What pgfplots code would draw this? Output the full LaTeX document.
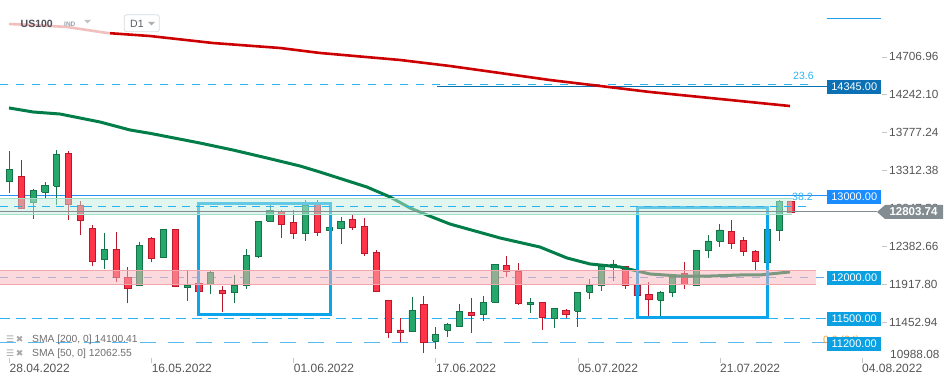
\documentclass[border=0pt]{standalone}
\usepackage{fontspec}
\setmainfont{Liberation Sans}
\newfontfamily\dejavu{DejaVu Sans}
\usepackage{pgfplots}
\pgfplotsset{compat=1.18}
\usepackage{pgfplotstable}

\definecolor{cgreen}{RGB}{38,168,108}
\definecolor{cgreendk}{RGB}{20,115,72}
\definecolor{cred}{RGB}{255,52,72}
\definecolor{creddk}{RGB}{185,25,45}
\definecolor{smared}{RGB}{204,0,0}
\definecolor{smagreen}{RGB}{0,125,72}
\definecolor{boxblue}{RGB}{10,165,235}
\definecolor{lvlblue}{RGB}{40,145,245}
\definecolor{dashblue}{RGB}{40,180,240}
\definecolor{dash12k}{RGB}{110,170,225}
\definecolor{dash11k}{RGB}{90,185,240}
\definecolor{topblue}{RGB}{30,160,235}
\definecolor{tickgray}{RGB}{85,85,85}
\definecolor{pricegray}{RGB}{130,140,145}
\definecolor{lab14345}{RGB}{12,112,180}
\definecolor{lab13000}{RGB}{25,140,255}
\definecolor{labsky}{RGB}{10,160,225}
\definecolor{fiborange}{RGB}{255,160,40}
\definecolor{pinkfill}{RGB}{248,180,185}
\definecolor{pinkline}{RGB}{242,165,170}
\definecolor{mintfill}{RGB}{195,238,222}
\definecolor{mintline}{RGB}{160,225,200}
\definecolor{hdrtext}{RGB}{80,80,90}
\definecolor{indtext}{RGB}{150,160,170}
\definecolor{tri1}{RGB}{190,195,200}
\definecolor{tri2}{RGB}{170,175,180}
\definecolor{d1border}{RGB}{215,220,225}
\definecolor{d1text}{RGB}{90,95,100}
\definecolor{iconGray}{RGB}{165,165,165}
\definecolor{smatext}{RGB}{110,110,110}

\pgfplotsset{
  gcw/.style={draw=cgreendk, line width=0.9pt},
  gcb/.style={draw=cgreendk, fill=cgreen, line width=0.9pt},
  rcw/.style={draw=creddk, line width=0.9pt},
  rcb/.style={draw=creddk, fill=cred, line width=0.9pt},
}

\pgfplotstableread{
i o h l c
1 13175 13552 13040 13328
2 13245 13442 12845 12849
3 12923 13082 12718 13065
4 13045 13175 12979 13131
5 13119 13564 12890 13512
6 13524 13552 12706 12898
7 12886 12939 12521 12697
8 12604 12644 12141 12194
9 12223 12546 12104 12346
10 12346 12558 11948 12002
11 12002 12132 11683 11867
12 11899 12436 11890 12395
13 12481 12497 12194 12236
14 12248 12600 12240 12591
15 12591 12595 11880 11887
16 11880 12080 11715 11908
17 11929 11957 11785 11826
18 11920 12080 11794 12064
19 11843 11896 11580 11801
20 11818 12031 11683 11904
21 11899 12350 11855 12272
22 12255 12695 12236 12690
23 12690 12890 12685 12828
24 12812 12828 12488 12653
25 12677 12828 12469 12542
26 12542 12951 12452 12890
27 12893 12951 12513 12555
28 12579 12632 12570 12616
29 12599 12742 12415 12693
30 12714 12771 12583 12616
31 12628 12730 12268 12292
32 12309 12334 11822 11826
33 11720 11725 11261 11328
34 11356 11503 11212 11323
35 11335 11761 11330 11597
36 11671 11777 11077 11205
37 11217 11389 11126 11303
38 11352 11438 11274 11426
39 11401 11675 11395 11585
40 11573 11748 11323 11536
41 11548 11773 11470 11696
42 11696 12168 11690 12162
43 12150 12264 12002 12076
44 12076 12174 11666 11683
45 11671 11748 11568 11696
46 11696 11700 11356 11512
47 11499 11627 11384 11622
48 11597 11613 11507 11548
49 11585 11823 11396 11818
50 11818 11978 11732 11908
51 11899 12166 11838 12141
52 12120 12215 11961 12166
53 12132 12141 11863 11904
54 11904 11920 11773 11782
55 11794 11945 11491 11732
56 11720 11831 11531 11818
57 11818 12010 11757 11998
58 12052 12190 11863 11920
59 11904 12342 11898 12337
60 12334 12521 12243 12448
61 12444 12656 12378 12583
62 12570 12706 12353 12420
63 12460 12497 12268 12321
64 12321 12337 12092 12194
65 12182 12595 12176 12591
66 12579 12951 12452 12935
67 12935 12939 12800 12804
}\candles

\begin{document}
\begin{tikzpicture}
\begin{axis}[
  scale only axis, width=882pt, height=358pt,
  at={(0pt,0pt)}, anchor=south west,
  xmin=0.198, xmax=74.69, ymin=11012.3, ymax=15404.9,
  axis line style={draw=none},
  xtick={1,13,25,37,49,61,73}, xticklabels={},
  xtick pos=lower, ytick pos=right,
  ytick={11452.94,11917.80,12382.66,12847.52,13312.38,13777.24,14242.10,14706.96},
  yticklabels={11452.94,11917.80,12382.66,12847.52,13312.38,13777.24,14242.10,14706.96},
  yticklabel pos=right,
  tick align=outside, major tick length=5pt,
  tick style={draw=black!22, line width=0.6pt},
  yticklabel style={anchor=west, font=\fontsize{11.8}{13}\selectfont, text=tickgray, inner xsep=0pt, xshift=2pt},
  clip=true,
]
% level lines under everything
\addplot[draw=dashblue, line width=1pt, dash pattern=on 8pt off 8pt] coordinates {(0.198,14370) (68.6,14370)};
\addplot[draw=lab14345, line width=0.9pt] coordinates {(37.1,14345) (70.04,14345)};
\addplot[draw=lvlblue, line width=1pt] coordinates {(0.198,13000) (70.04,13000)};
\addplot[draw=dash12k, line width=1pt, dash pattern=on 8pt off 8pt] coordinates {(0.198,12000) (70.04,12000)};
\addplot[draw=dashblue, line width=1pt, dash pattern=on 10pt off 6pt] coordinates {(0.198,11500) (70.04,11500)};
\addplot[draw=dash11k, line width=1.1pt, dash pattern=on 16pt off 12pt] coordinates {(0.198,11200) (70.04,11200)};
\addplot[draw=topblue, line width=1.1pt] coordinates {(70.04,15180) (74.61,15180)};

% candles
\pgfplotsinvokeforeach{0,...,66}{
  \pgfplotstablegetelem{#1}{i}\of\candles \edef\ci{\pgfplotsretval}
  \pgfplotstablegetelem{#1}{o}\of\candles \edef\co{\pgfplotsretval}
  \pgfplotstablegetelem{#1}{h}\of\candles \edef\ch{\pgfplotsretval}
  \pgfplotstablegetelem{#1}{l}\of\candles \edef\cl{\pgfplotsretval}
  \pgfplotstablegetelem{#1}{c}\of\candles \edef\cc{\pgfplotsretval}
  \pgfmathtruncatemacro\up{\cc>=\co ? 1 : 0}
  \pgfmathsetmacro\xa{\ci-0.26}
  \pgfmathsetmacro\xb{\ci+0.26}
  \ifnum\up=1 \def\cw{gcw}\def\cb{gcb}\else\def\cw{rcw}\def\cb{rcb}\fi
  \edef\temp{\noexpand\addplot[\cw] coordinates {(\ci,\cl) (\ci,\ch)};
    \noexpand\addplot[\cb] coordinates {(\xa,\co) (\xb,\co) (\xb,\cc) (\xa,\cc) (\xa,\co)};}
  \temp
}

% moving averages
\addplot[draw=smared, line width=2.6pt] coordinates {(0.958,15110) (2.985,15098) (5.857,15074) (9.235,15000) (12.867,14963) (18.19,14877) (23.85,14816) (27.22,14755) (33.98,14669) (38.20,14595) (42.43,14509) (46.65,14423) (50.87,14350) (55.10,14276) (59.32,14215) (63.54,14153) (66.92,14104)};
\addplot[draw=smagreen, line width=3pt] coordinates {(0.958,14080) (2.985,14031) (5.266,14006) (8.644,13908) (11.18,13810) (12.87,13769) (17.09,13650) (19.88,13564) (22.75,13466) (25.54,13368) (27.22,13294) (31.19,13110) (33.14,12988) (34.83,12853) (36.26,12767) (38.20,12656) (42.43,12485) (45.80,12374) (48.09,12239) (50.03,12166) (52.56,12129) (55.10,12043) (57.63,12018) (60.16,12018) (62.70,12031) (64.39,12031) (66.92,12068)};

% rectangles
\addplot[draw=boxblue, line width=3pt, line join=miter] coordinates {(17.00,12910) (28.07,12910) (28.07,11552) (17.00,11552) (17.00,12910) (28.07,12910)};
\addplot[draw=boxblue, line width=3pt, line join=miter] coordinates {(54.02,12853) (65.00,12853) (65.00,11515) (54.02,11515) (54.02,12853) (65.00,12853)};

% zones
\addplot[fill=pinkfill, fill opacity=0.5, draw=none] coordinates {(0.198,12092) (69.12,12092) (69.12,11917) (0.198,11917) (0.198,12092)};
\addplot[draw=pinkline, line width=1pt] coordinates {(0.198,12092) (69.12,12092)};
\addplot[draw=pinkline, line width=1pt] coordinates {(0.198,11917) (69.12,11917)};
\addplot[fill=mintfill, fill opacity=0.5, draw=none] coordinates {(0.198,12972) (67.09,12972) (67.09,12775) (0.198,12775) (0.198,12972)};
\addplot[draw=mintline, line width=1pt] coordinates {(0.198,12972) (67.09,12972)};
\addplot[draw=mintline, line width=1pt] coordinates {(0.198,12775) (67.09,12775)};

% lines on top
\addplot[draw=dashblue, line width=1pt, dash pattern=on 7.5pt off 6.5pt] coordinates {(0.198,12874) (68.6,12874)};
\addplot[draw=pricegray, line width=1pt] coordinates {(0.198,12804) (74.27,12804)};
\end{axis}

% header
\fill[white, opacity=0.75] (0pt,320pt) rectangle (110pt,346pt);
\node[anchor=base west, inner sep=0pt, text=hdrtext, font=\bfseries\fontsize{10.5}{12}\selectfont] at (20.5pt,330.7pt) {US100};
\node[anchor=base west, inner sep=0pt, text=indtext, font=\bfseries\fontsize{6.5}{8}\selectfont] at (64pt,331pt) {IND};
\fill[fill=tri1] (84pt,338pt) -- (91pt,338pt) -- (87.5pt,334.5pt) -- cycle;
\draw[draw=d1border, fill=white, line width=0.8pt, rounded corners=2.5pt] (124.3pt,326.3pt) rectangle (159.3pt,343.3pt);
\node[anchor=base west, inner sep=0pt, text=d1text, font=\fontsize{10.5}{12}\selectfont] at (130pt,330.5pt) {D1};
\fill[fill=tri2] (148pt,336pt) -- (155pt,336pt) -- (151.5pt,332.5pt) -- cycle;

% fib labels
\node[anchor=base west, inner sep=0pt, text=dashblue, font=\fontsize{10.5}{12}\selectfont] at (793pt,278pt) {23.6};
\node[anchor=base west, inner sep=0pt, text=dashblue, font=\fontsize{10.5}{12}\selectfont] at (792pt,157pt) {38.2};
\node[anchor=base west, inner sep=0pt, text=fiborange, font=\fontsize{10.5}{12}\selectfont] at (823pt,14.5pt) {0.0 (24)};

% right value boxes
\tikzset{vbox/.style={inner sep=0pt, minimum width=54pt, minimum height=14.3pt, anchor=west, text=white, font=\fontsize{11}{12}\selectfont}}
\node[vbox, fill=lab14345] at (827pt,271pt) {14345.00};
\node[vbox, fill=lab13000] at (827pt,161pt) {13000.00};
\node[vbox, fill=labsky] at (827pt,80.2pt) {12000.00};
\node[vbox, fill=labsky] at (827pt,39.2pt) {11500.00};
\node[vbox, fill=labsky] at (827pt,14.2pt) {11200.00};
\fill[fill=pricegray] (877pt,146pt) -- (885pt,153pt) -- (943pt,153pt) -- (943pt,139pt) -- (885pt,139pt) -- cycle;
\node[inner sep=0pt, text=white, font=\bfseries\fontsize{11.5}{12}\selectfont] at (913.5pt,146pt) {12803.74};
\node[anchor=west, inner sep=0pt, text=tickgray, font=\fontsize{11.8}{13}\selectfont] at (890pt,4pt) {10988.08};

% SMA legend
\node[anchor=base west, inner sep=0pt, text=iconGray, font=\dejavu\fontsize{9}{10}\selectfont] at (6pt,15.7pt) {☰\,✖};
\node[anchor=base west, inner sep=0pt, text=smatext, font=\fontsize{10.3}{12}\selectfont] at (32pt,15.7pt) {SMA [200, 0] 14100.41};
\node[anchor=base west, inner sep=0pt, text=iconGray, font=\dejavu\fontsize{9}{10}\selectfont] at (6pt,1.3pt) {☰\,✖};
\node[anchor=base west, inner sep=0pt, text=smatext, font=\fontsize{10.3}{12}\selectfont] at (32pt,1.3pt) {SMA [50, 0] 12062.55};

% date labels
\foreach \xx/\dd in {9.5/28.04.2022, 151.6/16.05.2022, 293.7/01.06.2022, 435.8/17.06.2022, 577.8/05.07.2022, 719.9/21.07.2022, 862/04.08.2022}{
  \node[anchor=base west, inner sep=0pt, text=tickgray, font=\fontsize{12}{14}\selectfont] at (\xx pt,-14.3pt) {\dd};
}

\pgfresetboundingbox
\path[use as bounding box] (0pt,-27pt) rectangle (949pt,358pt);
\end{tikzpicture}
\end{document}
